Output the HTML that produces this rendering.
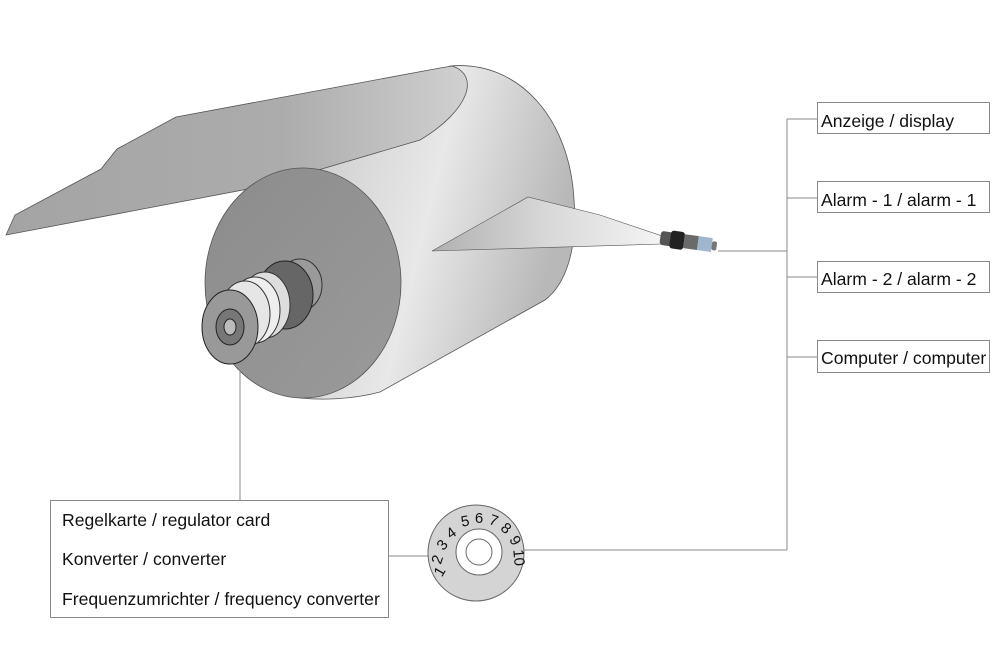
<!DOCTYPE html>
<html><head><meta charset="utf-8"><style>
html,body{margin:0;padding:0;background:#fff;}
svg{display:block;font-family:"Liberation Sans",Arial,sans-serif;}
</style></head><body>
<svg width="1000" height="650" viewBox="0 0 1000 650" xmlns="http://www.w3.org/2000/svg">
<defs>
<linearGradient id="body" x1="0" y1="0" x2="1" y2="0.3">
<stop offset="0" stop-color="#c8c8c8"/><stop offset="0.55" stop-color="#e8e8e8"/><stop offset="1" stop-color="#b8b8b8"/></linearGradient>
<linearGradient id="sheet" x1="0" y1="0" x2="1" y2="0">
<stop offset="0" stop-color="#a4a4a4"/><stop offset="0.6" stop-color="#acacac"/><stop offset="1" stop-color="#d0d0d0"/></linearGradient>
<linearGradient id="wedge" x1="0" y1="0" x2="1" y2="0">
<stop offset="0" stop-color="#b0b0b0"/><stop offset="0.5" stop-color="#d8d8d8"/><stop offset="1" stop-color="#f4f4f4"/></linearGradient>
<linearGradient id="face" x1="0" y1="0" x2="1" y2="1">
<stop offset="0" stop-color="#8c8c8c"/><stop offset="1" stop-color="#9a9a9a"/></linearGradient>
</defs>
<path d="M300,168 L450,66 C520,60 570,120 574,200 C578,250 565,285 545,300 L380,392 C350,400 320,400 300,398 Z" fill="url(#body)" stroke="#555" stroke-width="0.8"/>
<path d="M6,235 L15,215 L101,169 L117,149 L176,117 L440,68 L452,66 C480,75 470,110 420,140 L264,186 Z" fill="url(#sheet)" stroke="#555" stroke-width="0.8"/>
<ellipse cx="303" cy="283" rx="98" ry="115" fill="url(#face)" stroke="#555" stroke-width="0.8"/>
<path d="M432,251 L528,197 L600,215 L662,236 L662,244 Z" fill="url(#wedge)" stroke="#555" stroke-width="0.6"/>
<g transform="rotate(8 690 242)">
<rect x="660" y="235" width="12" height="14" rx="3" fill="#555"/>
<rect x="670" y="233" width="14" height="18" rx="3" fill="#222"/>
<rect x="684" y="235" width="14" height="14" fill="#6a6a6a"/>
<rect x="698" y="235" width="14" height="14" fill="#9fb6cc"/>
<rect x="712" y="238" width="5" height="9" rx="2" fill="#777"/>
</g>
<ellipse cx="300" cy="285" rx="22" ry="26" fill="#9a9a9a" stroke="#333"/>
<ellipse cx="285" cy="295" rx="28" ry="34" fill="#666" stroke="#222"/>
<ellipse cx="265" cy="305" rx="25" ry="33" fill="#ddd" stroke="#333"/>
<ellipse cx="255" cy="310" rx="25" ry="33" fill="#eee" stroke="#333"/>
<ellipse cx="245" cy="314" rx="25" ry="33" fill="#e6e6e6" stroke="#333"/>
<ellipse cx="230" cy="327" rx="28" ry="37" fill="#999" stroke="#222"/>
<ellipse cx="230" cy="327" rx="14" ry="18" fill="#777" stroke="#222"/>
<ellipse cx="230" cy="327" rx="6" ry="8" fill="#bbb" stroke="#222"/>
<g stroke="#888" stroke-width="1" fill="none">
<line x1="240" y1="370" x2="240" y2="500"/>
<line x1="388" y1="556" x2="428" y2="556"/>
<line x1="524" y1="550" x2="787" y2="550"/>
<line x1="787" y1="119" x2="787" y2="550"/>
<line x1="718" y1="251" x2="787" y2="251"/>
<line x1="787" y1="119" x2="817" y2="119"/>
<line x1="787" y1="198" x2="817" y2="198"/>
<line x1="787" y1="277" x2="817" y2="277"/>
<line x1="787" y1="357" x2="817" y2="357"/>
</g>
<g fill="#fff" stroke="#888" stroke-width="1">
<rect x="817.5" y="102.5" width="172" height="31"/>
<rect x="817.5" y="181.5" width="172" height="31"/>
<rect x="817.5" y="261.5" width="172" height="31"/>
<rect x="817.5" y="340.5" width="172" height="32"/>
<rect x="50.5" y="500.5" width="338" height="117"/>
</g>
<g font-size="17.6" fill="#111">
<text x="821" y="127">Anzeige / display</text>
<text x="821" y="206">Alarm - 1 / alarm - 1</text>
<text x="821" y="285">Alarm - 2 / alarm - 2</text>
<text x="821" y="364">Computer / computer</text>
<text x="62" y="526">Regelkarte / regulator card</text>
<text x="62" y="565">Konverter / converter</text>
<text x="62" y="605">Frequenzumrichter / frequency converter</text>
</g>
<circle cx="476" cy="553" r="48" fill="#d4d4d4" stroke="#666"/>
<circle cx="479" cy="552" r="23" fill="#fff" stroke="#666"/>
<circle cx="479" cy="552" r="13" fill="#fff" stroke="#666"/>
<g font-size="15" fill="#111" text-anchor="middle">
<text transform="translate(444,574) rotate(-60)">1</text>
<text transform="translate(442,561) rotate(-72)">2</text>
<text transform="translate(446,548) rotate(-50)">3</text>
<text transform="translate(454,537) rotate(-35)">4</text>
<text transform="translate(466,526) rotate(-10)">5</text>
<text transform="translate(479,523)">6</text>
<text transform="translate(492,525) rotate(20)">7</text>
<text transform="translate(503,532) rotate(40)">8</text>
<text transform="translate(511,543) rotate(60)">9</text>
<text transform="translate(514,558) rotate(85)">10</text>
</g>
</svg>
</body></html>
